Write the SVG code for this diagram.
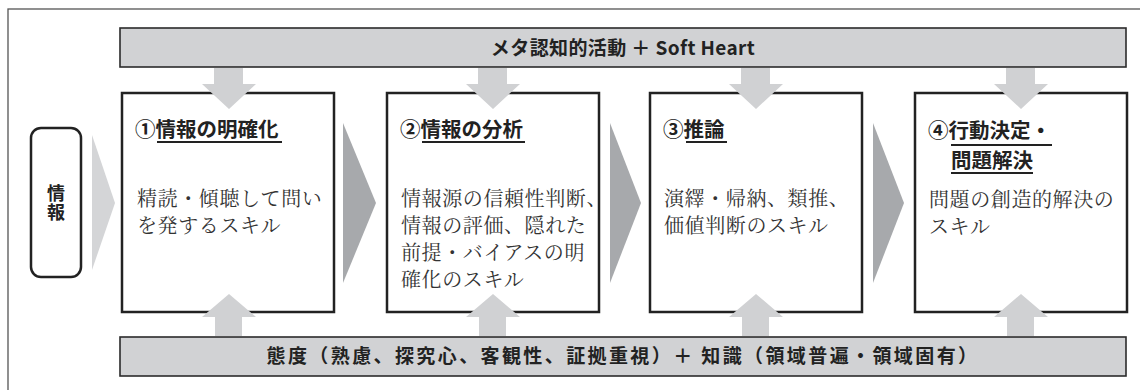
<svg xmlns="http://www.w3.org/2000/svg" width="1140" height="390" viewBox="0 0 1140 390">
<style>
.frame{fill:#fff;stroke:#555;stroke-width:1.3}
.bar{fill:#d1d2d4;stroke:#2b2b2b;stroke-width:1.6}
.box{fill:#fff;stroke:#222;stroke-width:2.5}
.info{fill:#fff;stroke:#222;stroke-width:2.5}
.arr{fill:#d0d1d3}
.chev-l{fill:#d4d5d7}
.chev-d{fill:#a7a9ac}
.bartxt{font-family:"Noto Sans CJK JP","Liberation Sans",sans-serif;font-weight:700;font-size:19px;fill:#222;text-anchor:middle}
.ttl{font-family:"Noto Sans CJK JP",sans-serif;font-weight:700;font-size:20.5px;fill:#222}
.body{font-family:"Noto Serif CJK JP","Noto Sans CJK JP",serif;font-weight:400;font-size:20px;letter-spacing:0.6px;fill:#333}
.ul{stroke:#222;stroke-width:2}
.vt{font-family:"Noto Sans CJK JP",sans-serif;font-weight:700;font-size:18px;fill:#222;writing-mode:vertical-rl;letter-spacing:1px}
</style>
<rect class="frame" x="8" y="9" width="1150" height="400"/>

<g id="top-bar">
<rect class="bar" x="120" y="28" width="1006" height="39"/>
<text class="bartxt" x="623" y="55" font-size="20" letter-spacing="0.4">メタ認知的活動 ＋ Soft Heart</text>
</g>

<g id="bottom-bar">
<rect class="bar" x="120" y="337" width="1006" height="39"/>
<text class="bartxt" x="623" y="363" letter-spacing="2.4">態度（熟慮、探究心、客観性、証拠重視）＋ 知識（領域普遍・領域固有）</text>
</g>

<g id="info">
<rect class="info" x="31" y="128" width="50" height="149" rx="10"/>
<text class="vt" x="56" y="184">情報</text>
</g>

<g id="step1">
<rect class="box" x="122" y="93" width="212" height="219"/>
<text class="ttl" x="135" y="137">①情報の明確化</text>
<line class="ul" x1="157" y1="142" x2="282" y2="142"/>
<text class="body" x="137" y="206">精読・傾聴して問い</text>
<text class="body" x="137" y="233">を発するスキル</text>
</g>

<g id="step2">
<rect class="box" x="387" y="93" width="212" height="219"/>
<text class="ttl" x="400" y="137">②情報の分析</text>
<line class="ul" x1="422" y1="142" x2="525" y2="142"/>
<text class="body" x="401" y="206">情報源の信頼性判断、</text>
<text class="body" x="401" y="233">情報の評価、隠れた</text>
<text class="body" x="401" y="260">前提・バイアスの明</text>
<text class="body" x="401" y="287">確化のスキル</text>
</g>

<g id="step3">
<rect class="box" x="650" y="93" width="212" height="219"/>
<text class="ttl" x="663" y="137">③推論</text>
<line class="ul" x1="686" y1="142" x2="727" y2="142"/>
<text class="body" x="664" y="206">演繹・帰納、類推、</text>
<text class="body" x="664" y="233">価値判断のスキル</text>
</g>

<g id="step4">
<rect class="box" x="915" y="93" width="212" height="219"/>
<text class="ttl" x="928" y="138">④行動決定・</text>
<line class="ul" x1="951" y1="145" x2="1052" y2="145"/>
<text class="ttl" x="951" y="168">問題解決</text>
<line class="ul" x1="951" y1="173" x2="1033" y2="173"/>
<text class="body" x="929" y="207">問題の創造的解決の</text>
<text class="body" x="929" y="234">スキル</text>
</g>

<g id="connectors">
<polygon class="chev-l" points="92,135 115,203 92,270"/>
<polygon class="chev-d" points="343,123 376,203 343,283"/>
<polygon class="chev-d" points="610,123 641,203 610,283"/>
<polygon class="chev-d" points="873,123 904,203 873,283"/>
<g class="arr">
<polygon points="214,68 243,68 243,84 256,84 229,109 202,84 214,84"/>
<polygon points="478,68 507,68 507,84 520,84 493,109 466,84 478,84"/>
<polygon points="741,68 770,68 770,84 783,84 756,109 729,84 741,84"/>
<polygon points="1006,68 1035,68 1035,84 1048,84 1021,109 994,84 1006,84"/>
<polygon points="215,336 242,336 242,317 256,317 229,294 202,317 215,317"/>
<polygon points="479,336 506,336 506,317 520,317 493,294 466,317 479,317"/>
<polygon points="742,336 769,336 769,317 783,317 756,294 729,317 742,317"/>
<polygon points="1007,336 1034,336 1034,317 1048,317 1021,294 994,317 1007,317"/>
</g>
</g>
</svg>
